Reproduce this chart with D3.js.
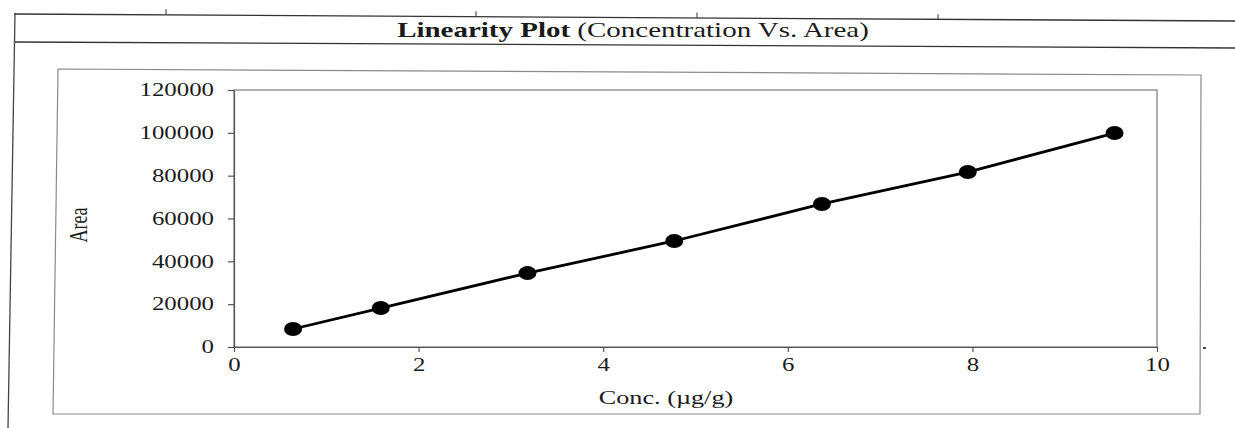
<!DOCTYPE html>
<html>
<head>
<meta charset="utf-8">
<script src="https://cdn.jsdelivr.net/npm/d3@7"></script>
<style>
  body { margin: 0; background: #fff; }
  svg { display: block; }
  text { font-family: "Liberation Serif", "Times New Roman", serif; fill: #1a1a1a; }
</style>
</head>
<body>
<script>
var conc = [0.64, 1.59, 3.18, 4.77, 6.37, 7.95, 9.54];
var area = [8400, 18200, 34500, 49500, 66800, 81700, 99900];
var xTicks = [0, 2, 4, 6, 8, 10];
var yTicks = [0, 20000, 40000, 60000, 80000, 100000, 120000];

var W = 1235, H = 428;
var stretch = 1.38;   // scan is stretched sideways

var svg = d3.select("body")
  .append("svg")
    .attr("width", W)
    .attr("height", H);

// document table lines round the title
svg.append("line").attr("x1", 14).attr("y1", 14).attr("x2", W).attr("y2", 21)
  .attr("stroke", "#333").attr("stroke-width", 1.3);
svg.append("line").attr("x1", 14).attr("y1", 42).attr("x2", W).attr("y2", 48)
  .attr("stroke", "#333").attr("stroke-width", 1.3);
svg.append("line").attr("x1", 15).attr("y1", 13).attr("x2", 8).attr("y2", H)
  .attr("stroke", "#444").attr("stroke-width", 1.3);
[[166, 14.1], [476, 16.2], [697, 17.6], [938, 19.3]].forEach(function(t) {
  svg.append("line").attr("x1", t[0]).attr("x2", t[0])
    .attr("y1", t[1] - 5).attr("y2", t[1])
    .attr("stroke", "#333").attr("stroke-width", 1);
});

var title = svg.append("text")
  .attr("transform", "translate(633,37) scale(" + stretch + ",1)")
  .style("text-anchor", "middle")
  .style("font-size", "21px");
title.append("tspan").style("font-weight", "bold").text("Linearity Plot");
title.append("tspan").text(" (Concentration Vs. Area)");

// chart frame
svg.append("path")
  .attr("d", "M58,69 L1201,75 L1200,414 L53,414 Z")
  .attr("fill", "none")
  .attr("stroke", "#8a8a8a")
  .attr("stroke-width", 1.2);
svg.append("rect").attr("x", 1203).attr("y", 347).attr("width", 3).attr("height", 2)
  .attr("fill", "#444");

var x = d3.scaleLinear()
  .domain([0, 10])
  .range([234, 1157]);

var y = d3.scaleLinear()
  .domain([0, 120000])
  .range([347, 90]);

// plot area border
svg.append("rect")
  .attr("x", x(0))
  .attr("y", y(120000))
  .attr("width", x(10) - x(0))
  .attr("height", y(0) - y(120000))
  .attr("fill", "none")
  .attr("stroke", "#7a7a7a")
  .attr("stroke-width", 1.2);

var xAxis = svg.append("g")
  .attr("transform", "translate(0," + y(0) + ")")
  .call(d3.axisBottom(x).tickValues(xTicks).tickSize(5).tickSizeOuter(0).tickFormat(d3.format("d")));
xAxis.selectAll("text")
  .attr("y", null).attr("dy", null)
  .attr("transform", "translate(0,24) scale(" + stretch + ",1)")
  .style("font-size", "18px")
  .style("font-family", "Liberation Serif, serif");

var yAxis = svg.append("g")
  .attr("transform", "translate(" + x(0) + ",0)")
  .call(d3.axisLeft(y).tickValues(yTicks).tickSize(6).tickSizeOuter(0).tickFormat(d3.format("d")));
yAxis.selectAll("text")
  .attr("x", -14.5)
  .attr("transform", "scale(" + stretch + ",1)")
  .style("font-size", "18px")
  .style("font-family", "Liberation Serif, serif");

svg.selectAll(".domain, .tick line")
  .attr("stroke", "#555")
  .attr("stroke-width", 1.2);

var pts = conc.map(function(c, i) { return [c, area[i]]; });

svg.append("path")
  .datum(pts)
  .attr("fill", "none")
  .attr("stroke", "#000")
  .attr("stroke-width", 2.8)
  .attr("d", d3.line()
    .x(function(d) { return x(d[0]); })
    .y(function(d) { return y(d[1]); }));

svg.append("g")
  .selectAll("ellipse")
  .data(pts)
  .enter()
  .append("ellipse")
    .attr("cx", function(d) { return x(d[0]); })
    .attr("cy", function(d) { return y(d[1]); })
    .attr("rx", 9)
    .attr("ry", 7)
    .style("fill", "#000");

svg.append("text")
  .attr("transform", "translate(666,404) scale(" + stretch + ",1)")
  .style("text-anchor", "middle")
  .style("font-size", "19px")
  .text("Conc. (µg/g)");

svg.append("text")
  .attr("transform", "translate(87,225) scale(" + stretch + ",1) rotate(-90)")
  .style("text-anchor", "middle")
  .style("font-size", "18px")
  .text("Area");
</script>
</body>
</html>
